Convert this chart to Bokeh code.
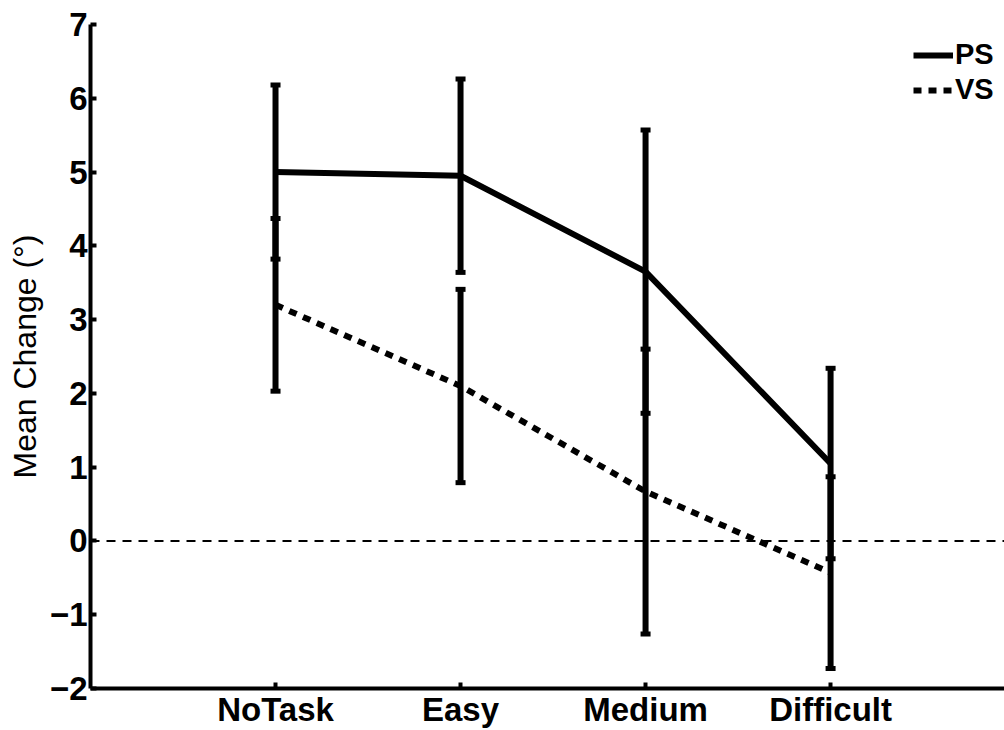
from bokeh.plotting import figure
from bokeh.models import (ColumnDataSource, Whisker, TeeHead, Span, Legend,
                          LegendItem, FixedTicker, Range1d)
from bokeh.embed import file_html
from bokeh.resources import INLINE

# ---- data ----
categories = ["NoTask", "Easy", "Medium", "Difficult"]
ps_mean = [5.00, 4.95, 3.65, 1.05]
ps_err = [1.18, 1.31, 1.92, 1.29]
vs_mean = [3.20, 2.10, 0.67, -0.43]
vs_err = [1.17, 1.31, 1.93, 1.30]
y_ticks = [-2, -1, 0, 1, 2, 3, 4, 5, 6, 7]

xs = [i + 1 for i in range(len(categories))]

ps_src = ColumnDataSource(dict(
    x=xs, y=ps_mean,
    lo=[m - e for m, e in zip(ps_mean, ps_err)],
    hi=[m + e for m, e in zip(ps_mean, ps_err)]))
vs_src = ColumnDataSource(dict(
    x=xs, y=vs_mean,
    lo=[m - e for m, e in zip(vs_mean, vs_err)],
    hi=[m + e for m, e in zip(vs_mean, vs_err)]))

FONT = "Liberation Sans"

p = figure(width=1004, height=730, output_backend="svg", toolbar_location=None,
           x_range=Range1d(0, 4.94), y_range=Range1d(-2, 7),
           min_border_left=90, min_border_right=0, min_border_top=24,
           min_border_bottom=40)
p.outline_line_color = None
p.grid.visible = False
p.background_fill_color = "white"

# zero reference line
p.add_layout(Span(location=0, dimension="width", line_color="black",
                  line_width=2, line_dash="9 7"))

# error bars
for src in (ps_src, vs_src):
    w = Whisker(source=src, base="x", lower="lo", upper="hi",
                line_color="black", line_width=6,
                upper_head=TeeHead(size=10, line_color="black", line_width=5),
                lower_head=TeeHead(size=10, line_color="black", line_width=5))
    p.add_layout(w)

ps_line = p.line("x", "y", source=ps_src, line_color="black", line_width=6)
vs_line = p.line("x", "y", source=vs_src, line_color="black", line_width=6,
                 line_dash="8 7")

legend = Legend(items=[LegendItem(label="PS", renderers=[ps_line]),
                       LegendItem(label="VS", renderers=[vs_line])],
                location=(823, 582), padding=0, margin=0, spacing=2,
                glyph_width=40, glyph_height=30, label_height=30,
                label_standoff=2, border_line_color=None,
                background_fill_alpha=0,
                label_text_font=FONT, label_text_font_size="29px",
                label_text_font_style="bold", label_text_color="black")
p.add_layout(legend)

# axes
p.xaxis.ticker = FixedTicker(ticks=xs)
p.xaxis.major_label_overrides = {x: c for x, c in zip(xs, categories)}
p.yaxis.ticker = FixedTicker(ticks=y_ticks)
p.yaxis.major_label_overrides = {t: (str(t) if t >= 0 else "\u2212" + str(-t)) for t in y_ticks}

for ax in (p.xaxis[0], p.yaxis[0]):
    ax.axis_line_width = 4
    ax.axis_line_color = "black"
    ax.major_tick_in = 6
    ax.major_tick_out = 0
    ax.major_tick_line_width = 4
    ax.major_tick_line_color = "black"
    ax.minor_tick_line_color = None
    ax.major_label_text_font = FONT
    ax.major_label_text_font_style = "bold"
    ax.major_label_text_font_size = "33px"
    ax.major_label_text_color = "black"

p.xaxis.major_label_standoff = 2
p.yaxis.major_label_standoff = 3
p.yaxis.axis_label = "Mean Change (\u00b0)"
p.yaxis.axis_label_text_font = FONT
p.yaxis.axis_label_text_font_style = "normal"
p.yaxis.axis_label_text_font_size = "32px"
p.yaxis.axis_label_text_color = "black"
p.yaxis.axis_label_standoff = 4

open("out.html", "w").write(file_html(p, INLINE))
